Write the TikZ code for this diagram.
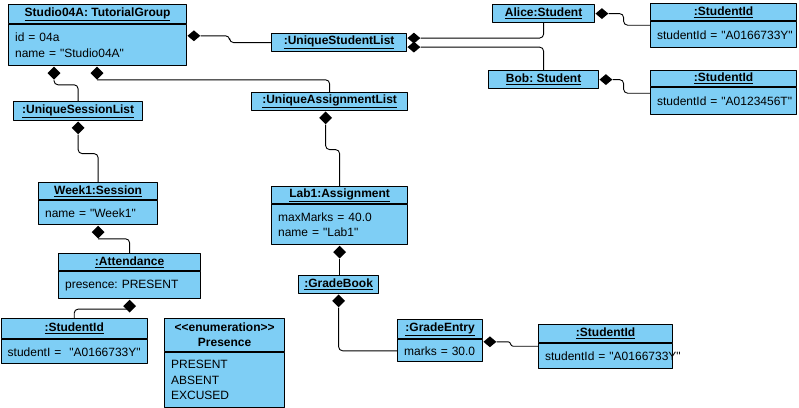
\documentclass[tikz,border=0pt]{standalone}
\usepackage{fontspec}
\setmainfont{Liberation Sans}
\usetikzlibrary{shapes.geometric}
\definecolor{objblue}{RGB}{126,206,245}
% straight double quote, without the tex-text mapping
\font\quotefont="Liberation Sans" at 12pt
\newcommand\dq{{\quotefont"}}

\begin{document}
\frenchspacing
\begin{tikzpicture}[x=1pt, y=-1pt, line join=round,
    every node/.style={font=\fontsize{12}{15.5}\selectfont},
    obj/.style={draw, fill=objblue, line width=1.2pt, inner sep=0pt, anchor=north west},
    head/.style={obj, font=\fontsize{12}{15}\selectfont\bfseries},
    attr/.style={obj, align=left, inner xsep=6.5pt, text width=#1},
    dia/.style={diamond, fill=black, inner sep=0pt, minimum width=13pt, minimum height=13pt},
    hdia/.style={diamond, fill=black, inner sep=0pt, minimum width=13pt, minimum height=11pt},
    link/.style={line width=0.9pt, rounded corners=4pt}]
        \useasboundingbox (0,0) rectangle (799,407);

        % objects
        \node[head, minimum width=178pt, minimum height=19pt] (studio) at (8,4) {\underline{Studio04A: TutorialGroup}};
        \node[attr=165pt, minimum height=41pt] (studio-attr) at (studio.south west) {id = 04a\\name = \dq Studio04A\dq};
        \node[head, minimum width=135pt, minimum height=18pt] (ustl) at (271,33) {\underline{:UniqueStudentList}};
        \node[head, minimum width=102pt, minimum height=18pt] (alice) at (492,4) {\underline{Alice:Student}};
        \node[head, minimum width=110pt, minimum height=18pt] (bob) at (488,70) {\underline{Bob: Student}};
        \node[head, minimum width=146pt, minimum height=17pt] (aliceid) at (650,3) {\underline{:StudentId}};
        \node[attr=133pt, minimum height=26pt] (aliceid-attr) at (aliceid.south west) {\mbox{studentId = \dq A0166733Y\dq}};
        \node[head, minimum width=146pt, minimum height=16pt] (bobid) at (650,70) {\underline{:StudentId}};
        \node[attr=133pt, minimum height=27pt] (bobid-attr) at (bobid.south west) {\mbox{studentId = \dq A0123456T\dq}};
        \node[head, minimum width=129pt, minimum height=19pt] (usl) at (13,101) {\underline{:UniqueSessionList}};
        \node[head, minimum width=156pt, minimum height=18pt] (ual) at (251,92) {\underline{:UniqueAssignmentList}};
        \node[head, minimum width=119pt, minimum height=17pt] (week) at (38,182) {\underline{Week1:Session}};
        \node[attr=106pt, minimum height=24pt] (week-attr) at (week.south west) {name = \dq Week1\dq};
        \node[head, minimum width=142pt, minimum height=17pt] (att) at (58,253) {\underline{:Attendance}};
        \node[attr=129pt, minimum height=27pt] (att-attr) at (att.south west) {presence: PRESENT};
        \node[head, minimum width=146pt, minimum height=20pt] (attid) at (0.6,318) {\underline{:StudentId}};
        \node[attr=133pt, minimum height=24pt] (attid-attr) at (attid.south west) {\mbox{studentI = ~\dq A0166733Y\dq}};
        \node[head, minimum width=120pt, minimum height=33pt, align=center] (presence) at (164,318) {<\kern0pt<enumeration>\kern0pt>\\Presence};
        \node[attr=107pt, minimum height=55pt] (presence-attr) at (presence.south west) {PRESENT\\ABSENT\\EXCUSED};
        \node[head, minimum width=136pt, minimum height=17pt] (lab) at (271,186) {\underline{Lab1:Assignment}};
        \node[attr=123pt, minimum height=40pt] (lab-attr) at (lab.south west) {maxMarks = 40.0\\name = \dq Lab1\dq};
        \node[head, minimum width=80pt, minimum height=18pt] (gb) at (298,275) {\underline{:GradeBook}};
        \node[head, minimum width=85pt, minimum height=19pt] (ge) at (397,319) {\underline{:GradeEntry}};
        \node[attr=72pt, minimum height=22pt] (ge-attr) at (ge.south west) {marks = 30.0};
        \node[head, minimum width=134pt, minimum height=18pt] (geid) at (538,324) {\underline{:StudentId}};
        \node[attr=121pt, minimum height=25pt] (geid-attr) at (geid.south west) {\mbox{studentId = \dq A0166733Y\dq}};

        % composition diamonds
        \node[dia, anchor=north] (studio-d1) at ([xshift=46pt]studio-attr.south west) {};
        \node[dia, anchor=north] (studio-d2) at ([xshift=89pt]studio-attr.south west) {};
        \node[hdia, anchor=west] (studio-d3) at ([yshift=9.5pt]studio-attr.east) {};
        \node[hdia, anchor=west] (ustl-d1) at ([yshift=4.5pt]ustl.east) {};
        \node[hdia, anchor=west] (ustl-d2) at ([yshift=-4.5pt]ustl.east) {};
        \node[hdia, anchor=west] (alice-d) at (alice.east) {};
        \node[hdia, anchor=west] (bob-d) at (bob.east) {};
        \node[dia, anchor=north] (usl-d) at (usl.south) {};
        \node[dia, anchor=north] (ual-d) at ([xshift=-4pt]ual.south) {};
        \node[dia, anchor=north] (week-d) at (week-attr.south) {};
        \node[dia, anchor=north] (att-d) at (att-attr.south) {};
        \node[dia, anchor=north] (lab-d) at (lab-attr.south) {};
        \node[dia, anchor=north] (gb-d) at (gb.south) {};
        \node[hdia, anchor=west] (ge-d) at ([yshift=9pt]ge-attr.east) {};

        % links
        \draw[link] (studio-d1.south) -- ++(0,5) -| (usl.north);
        \draw[link] (studio-d2.south) -| (ual.north);
        \draw[link] (studio-d3.east) -- ++(29,0) |- (ustl.west);
        \draw[link] (ustl-d1.east) -| (alice.south);
        \draw[link] (ustl-d2.east) -| (bob.north);
        \draw[link] (alice-d.east) -- ++(15,0) |- ([yshift=-4pt]aliceid-attr.north west);
        \draw[link] (bob-d.east) -- ++(11,0) |- ([yshift=-6pt]bobid-attr.north west);
        \draw[link] (usl-d.south) -- ++(0,19) -| (week.north);
        \draw[link] (week-d.south) -| (att.north);
        \draw[link] ([yshift=-3pt]att-d.center) -| (attid.north);
        \draw[link] (ual-d.south) -- ++(0,25) -| (lab.north);
        \draw[link] (lab-d.south) -- (lab-d.south |- gb.north);
        \draw[link] (gb-d.south) |- (ge-attr.west);
        \draw[link, rounded corners=2.5pt] (ge-d.east) -- ++(14,0) |- ([yshift=-3pt]geid-attr.north west);
      \end{tikzpicture}
\end{document}
